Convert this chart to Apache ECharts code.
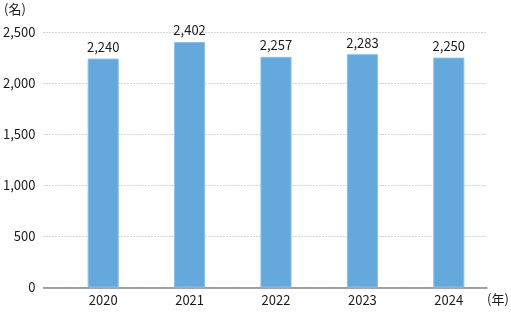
<!DOCTYPE html>
<html><head><meta charset="utf-8">
<script src="https://cdn.jsdelivr.net/npm/echarts@6/dist/echarts.min.js"></script>
<style>html,body{margin:0;padding:0;background:#fff}#c{width:511px;height:316px}</style>
</head><body><div id="c"></div>
<script>
const categories = ['2020','2021','2022','2023','2024'];
const values = [2240, 2402, 2257, 2283, 2250];
const yTicks = [0, 500, 1000, 1500, 2000, 2500];
const FONT = '"Noto Sans CJK JP", "Open Sans", sans-serif';
const chart = echarts.init(document.getElementById('c'));
chart.setOption({
  animation: false,
  grid: [
    {left: 43, right: 24, top: 32, bottom: 28.5},
    {left: 60, right: 19, top: 32, bottom: 28.5}
  ],
  xAxis: [
    {type: 'category', gridIndex: 0, data: categories, axisLine: {lineStyle: {color: '#888', width: 1.5}},
     axisTick: {show: false}, axisLabel: {show: false}},
    {type: 'category', gridIndex: 1, data: categories, axisLine: {show: false}, axisTick: {show: false},
     axisLabel: {color: '#1a1a1a', fontSize: 13, fontFamily: FONT, margin: 6}}
  ],
  yAxis: [
    {type: 'value', gridIndex: 0, min: yTicks[0], max: yTicks[yTicks.length-1], interval: 500,
     axisLabel: {color: '#1a1a1a', fontSize: 13, fontFamily: FONT, margin: 8,
       formatter: v => v.toLocaleString('en-US')},
     splitLine: {lineStyle: {color: '#aaa', type: [1, 2]}},
     axisLine: {show: false}, axisTick: {show: false}},
    {type: 'value', gridIndex: 1, min: 0, max: 2500, interval: 500, show: false}
  ],
  series: [{
    type: 'bar', xAxisIndex: 1, yAxisIndex: 1, data: values, barWidth: '36%',
    itemStyle: {color: '#64a8dc', borderColor: '#8cc0e8', borderWidth: 1},
    label: {show: true, position: 'top', distance: 5, color: '#1a1a1a', fontSize: 13, fontFamily: FONT,
      formatter: p => p.value.toLocaleString('en-US')}
  }],
  graphic: [
    {type: 'text', left: 4, top: 3, style: {text: '(名)', fill: '#1a1a1a', font: '13px ' + FONT}},
    {type: 'text', left: 487, top: 293, style: {text: '(年)', fill: '#1a1a1a', font: '13px ' + FONT}}
  ]
});
</script></body></html>
